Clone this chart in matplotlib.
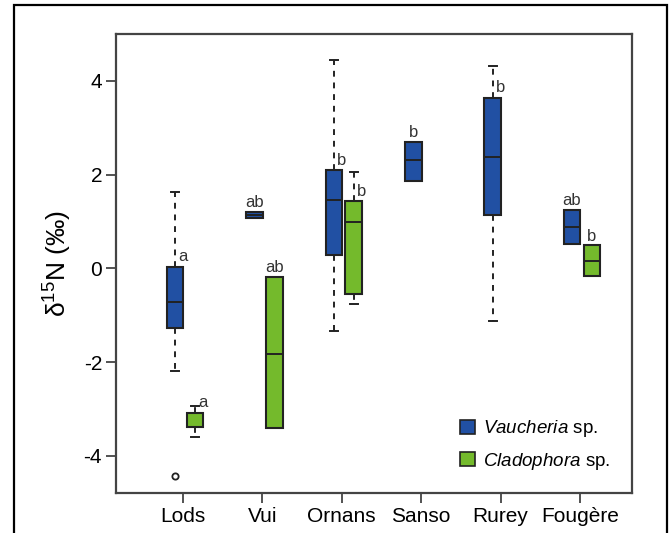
import matplotlib
matplotlib.use('Agg')
import matplotlib.pyplot as plt
from matplotlib.patches import Patch, Rectangle

plt.rcParams['font.family'] = ['Liberation Sans', 'DejaVu Sans']
plt.rcParams['mathtext.fontset'] = 'custom'
plt.rcParams['mathtext.rm'] = 'Liberation Sans'
plt.rcParams['mathtext.it'] = 'Liberation Sans:italic'
plt.rcParams['axes.unicode_minus'] = False

# Data (delta 15N, permil)
sites = ['Lods', 'Vui', 'Ornans', 'Sanso', 'Rurey', 'Fougère']

vau_lo = [-2.18, 1.08, -1.34, 1.87, -1.12, 0.53]
vau_q1 = [-1.27, 1.08, 0.28, 1.87, 1.13, 0.53]
vau_med = [-0.72, 1.14, 1.47, 2.31, 2.37, 0.89]
vau_q3 = [0.03, 1.20, 2.09, 2.70, 3.63, 1.25]
vau_hi = [1.62, 1.20, 4.45, 2.70, 4.32, 1.25]
vau_out = [[-4.42], [], [], [], [], []]
vau_letters = ['a', 'ab', 'b', 'b', 'b', 'ab']

cla_lo = [-3.59, -3.40, -0.75, None, None, -0.17]
cla_q1 = [-3.38, -3.40, -0.55, None, None, -0.17]
cla_med = [-3.09, -1.82, 1.00, None, None, 0.16]
cla_q3 = [-3.09, -0.19, 1.43, None, None, 0.49]
cla_hi = [-2.94, -0.19, 2.05, None, None, 0.49]
cla_letters = ['a', 'ab', 'b', None, None, 'b']

blue = '#2150a3'
green = '#74ba2c'
edge = '#222222'
axc = '#444444'

fig = plt.figure(figsize=(6.72, 5.33), dpi=100, facecolor='white')
ax = fig.add_axes([116/672, 1-493/533, (632-116)/672, (493-34)/533])

# outer frame of the figure
fig.patches.append(Rectangle((14/672, -0.05), (667-14)/672, 1.05-5/533,
                             transform=fig.transFigure, fill=False,
                             edgecolor='black', linewidth=1.6))


def draw(lo, q1, med, q3, hi, out, letters, offset, color):
    stats, pos, labs = [], [], []
    for i in range(len(sites)):
        if med[i] is None:
            continue
        stats.append(dict(whislo=lo[i], q1=q1[i], med=med[i], q3=q3[i],
                          whishi=hi[i], fliers=out[i] if out else []))
        pos.append(i + 1 + offset)
        labs.append((i + 1 + offset, q3[i], hi[i] > q3[i], letters[i]))
    ax.bxp(stats, positions=pos, widths=0.21, patch_artist=True,
           boxprops=dict(facecolor=color, edgecolor=edge, linewidth=1.5),
           medianprops=dict(color=edge, linewidth=1.4),
           whiskerprops=dict(color=edge, linewidth=1.4, linestyle=(0, (3, 3))),
           capprops=dict(color=edge, linewidth=1.4), capwidths=0.1,
           flierprops=dict(marker='o', markerfacecolor='white',
                           markeredgecolor=edge, markersize=4.5,
                           markeredgewidth=1.3))
    for x, y, whisk, t in labs:
        if whisk:
            ax.text(x + 0.04, y + 0.06, t, ha='left', va='bottom',
                    fontsize=12, color='#333333')
        else:
            ax.text(x, y + 0.04, t, ha='center', va='bottom',
                    fontsize=12, color='#333333')


draw(vau_lo, vau_q1, vau_med, vau_q3, vau_hi, vau_out, vau_letters, -0.1, blue)
draw(cla_lo, cla_q1, cla_med, cla_q3, cla_hi, None, cla_letters, 0.15, green)

ax.set_xlim(0.156, 6.655)
ax.set_ylim(-4.79, 5.0)
ax.set_xticks(range(1, len(sites) + 1))
ax.set_xticklabels(sites, fontsize=15)
ax.set_yticks([-4, -2, 0, 2, 4])
ax.set_yticklabels(['-4', '-2', '0', '2', '4'], fontsize=15)
ax.tick_params(direction='out', length=7, width=1.3, color=axc, pad=3)
for s in ax.spines.values():
    s.set_color(axc)
    s.set_linewidth(1.6)

ax.text(-0.113, 0.5, 'δ$^{15}$N (‰)', transform=ax.transAxes, rotation=90,
        ha='center', va='center', fontsize=19)

handles = [Patch(facecolor=blue, edgecolor=edge, linewidth=1.2),
           Patch(facecolor=green, edgecolor=edge, linewidth=1.2)]
ax.legend(handles, ['$\\it{Vaucheria}$ sp.', '$\\it{Cladophora}$ sp.'],
          loc='lower right', bbox_to_anchor=(0.99, 0.01), frameon=False,
          fontsize=13.5, handlelength=0.8, handleheight=0.8, handletextpad=0.4,
          labelspacing=0.6)

fig.savefig('out.png', dpi=100, facecolor='white')
